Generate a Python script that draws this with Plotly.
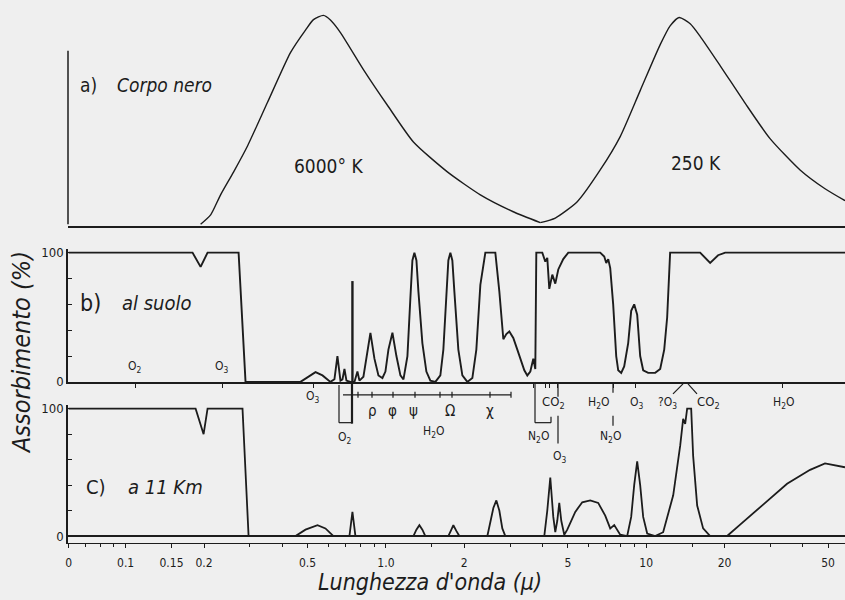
import plotly.graph_objects as go

# ---------------- data ----------------
# a) black body curves (normalised)
bb6000_wl = [0.1941, 0.2121, 0.2316, 0.2597, 0.2939, 0.3509, 0.4298, 0.4909, 0.5269, 0.5755,
             0.6120, 0.6687, 0.8195, 1.0134, 1.2756, 1.7222, 2.3058, 3.0864, 3.9183]
bb6000_val = [0, 0.045, 0.141, 0.25, 0.375, 0.584, 0.822, 0.93, 0.98, 1.0,
              0.978, 0.918, 0.741, 0.57, 0.394, 0.251, 0.141, 0.06, 0.008]
bb250_wl = [3.9183, 4.4749, 5.4345, 6.6582, 7.9474, 9.4830, 11.32, 12.36, 13.39, 14.76,
            16.12, 19.23, 23.99, 29.92, 39.02, 48.66, 58.06]
bb250_val = [0.008, 0.03, 0.108, 0.26, 0.42, 0.64, 0.86, 0.95, 0.99, 0.96,
             0.9, 0.76, 0.58, 0.41, 0.26, 0.17, 0.113]

# b) absorption at ground (%)
ground_wl = [0.0604, 0.1807, 0.1941, 0.2064, 0.2716, 0.2888, 0.4697, 0.5043, 0.5364, 0.5705,
             0.6120, 0.6342, 0.6512, 0.6687, 0.6808, 0.6929, 0.7053, 0.7305, 0.7569, 0.7772,
             0.7911, 0.8195, 0.8416, 0.8719, 0.9034, 0.9359, 0.9696, 0.9956, 1.0224, 1.0593,
             1.0973, 1.1368, 1.1679, 1.2097, 1.2417, 1.2640, 1.2866, 1.3100, 1.3330, 1.3806,
             1.4304, 1.4819, 1.5488, 1.6188, 1.6623, 1.7070, 1.7374, 1.7687, 1.8000, 1.8323,
             1.8980, 1.9666, 2.0556, 2.1486, 2.2256, 2.3058, 2.4100, 2.6327, 2.7275, 2.8257,
             2.9017, 2.9795, 3.0864, 3.1979, 3.2839, 3.4022, 3.4936, 3.5876, 3.6840, 3.7497,
             3.7832, 3.9888, 4.0961, 4.1687, 4.2434, 4.3580, 4.4749, 4.5949, 4.8015, 5.0194,
             6.6582, 6.9000, 7.0233, 7.1484, 7.2756, 7.4681, 7.6708, 7.8079, 8.0168, 8.2319,
             8.5288, 8.7579, 8.9932, 9.2349, 9.4830, 9.7378, 10.18, 10.83, 11.32, 11.73,
             12.04, 12.36, 16.12, 17.61, 18.89, 20.11, 58.06]
ground_val = [100, 100, 89, 100, 100, 0, 0, 4, 7.5, 5,
              0, 2, 20, 1, 2, 10, 1, 0, 0, 8,
              1, 4, 20, 38, 18, 5, 3, 8, 25, 38,
              20, 5, 2, 20, 65, 94, 100, 94, 70, 30,
              8, 1, 0, 5, 25, 70, 94, 100, 94, 70,
              25, 5, 0, 3, 25, 75, 100, 100, 70, 33,
              37, 39, 34, 25, 18, 9, 5, 8, 18, 10,
              100, 100, 93, 96, 72, 83, 76, 87, 95, 100,
              100, 97, 92, 95, 88, 60, 20, 9, 7, 12,
              30, 55, 60, 52, 20, 9, 7, 7, 10, 25,
              50, 100, 100, 92, 98, 100, 100]
o2_line_wl = [0.7436, 0.7436]
o2_line_val = [0, 78]

# c) absorption at 11 km (%)
km11_wl = [0.0604, 0.1857, 0.1993, 0.2064, 0.2812, 0.2967, 0.4494, 0.4909, 0.5459, 0.5857,
           0.6287, 0.7241, 0.7436, 0.7636, 1.2756, 1.3097, 1.3446, 1.3806, 1.4176, 1.7374,
           1.7842, 1.8159, 1.8644, 1.9148, 2.4531, 2.5189, 2.5870, 2.6568, 2.7275, 2.8005,
           2.8758, 4.0593, 4.1687, 4.2812, 4.3963, 4.4749, 4.5542, 4.6355, 4.7183, 4.8443,
           4.9750, 5.3394, 5.6799, 6.0954, 6.5414, 6.9607, 7.2756, 7.5377, 7.7397, 7.9474,
           8.4544, 8.7579, 8.9932, 9.2349, 9.4830, 9.7378, 10.09, 10.83, 11.62, 12.70,
           13.51, 13.87, 14.12, 14.37, 14.89, 15.15, 15.70, 16.55, 17.61, 20.46,
           22.96, 25.75, 34.78, 42.63, 48.66, 58.06]
km11_val = [100, 100, 80, 100, 100, 0, 0, 5, 8.5, 6,
            0, 0, 19, 0, 0, 5, 8.5, 5, 0, 0,
            5, 8.5, 4, 0, 0, 10, 22, 28, 20, 6,
            0, 0, 20, 46, 15, 3, 12, 26, 12, 1,
            5, 19, 26.5, 28, 26, 16, 6, 8.6, 5, 1,
            0, 15, 40, 58.6, 40, 15, 2, 0, 3, 32,
            71, 92, 88, 100, 100, 63, 24, 6, 0, 0,
            9, 18, 41, 52, 57, 54]

# axis ticks
tick_vals = [0.0604, 0.1, 0.15, 0.2, 0.5, 1.0, 2, 5, 10, 20, 50]
tick_text = ["0", "0.1", "0.15", "0.2", "0.5", "1.0", "2", "5", "10", "20", "50"]
minor_vals = [0.07, 0.08, 0.09, 0.3, 0.4, 0.6, 0.7, 0.8, 0.9, 1.5, 3, 4, 6, 7, 8, 9, 15, 30, 40]
band_tick_vals = [0.1092, 0.2357, 0.527, 3.68, 4.10, 4.24, 4.55, 7.47, 9.07, 33.4]
y_tick_vals = [0, 20, 40, 60, 80, 100]
y_tick_text = ["0", "", "", "", "", "100"]

# ---------------- figure ----------------
INK = "#1c1c1c"
BG = "#efefef"
W, H = 845, 600
ML, MR, MT, MB = 68, 0, 0, 57
PW, PH = W - ML - MR, H - MT - MB
XR = [-1.2215, 1.7639]
NARROW = "Liberation Sans Narrow, DejaVu Sans Condensed, Arial Narrow, sans-serif"


def P(px, py):
    return (px - ML) / PW, (PH - (py - MT)) / PH


fig = go.Figure()
fig.add_trace(go.Scatter(x=bb6000_wl, y=bb6000_val, xaxis="x4", yaxis="y", mode="lines",
                         line=dict(color=INK, width=1.4, shape="spline", smoothing=0.6)))
fig.add_trace(go.Scatter(x=bb250_wl, y=bb250_val, xaxis="x4", yaxis="y", mode="lines",
                         line=dict(color=INK, width=1.4, shape="spline", smoothing=0.6)))
fig.add_trace(go.Scatter(x=ground_wl, y=ground_val, xaxis="x2", yaxis="y2", mode="lines",
                         line=dict(color=INK, width=1.9)))
fig.add_trace(go.Scatter(x=o2_line_wl, y=o2_line_val, xaxis="x2", yaxis="y2", mode="lines",
                         line=dict(color=INK, width=2.4)))
fig.add_trace(go.Scatter(x=km11_wl, y=km11_val, xaxis="x", yaxis="y3", mode="lines",
                         line=dict(color=INK, width=1.8)))

_, a_bot = P(0, 224.5)
_, a_top = P(0, 8)
_, b_bot = P(0, 381)
_, b_top = P(0, 247)
_, c_top = P(0, 404)

yax_common = dict(showgrid=False, showline=True, linecolor=INK, linewidth=1.5,
                  ticks="inside", ticklen=4, tickcolor=INK, tickvals=y_tick_vals,
                  ticktext=y_tick_text, tickfont=dict(family=NARROW, size=13, color=INK),
                  fixedrange=True)

fig.update_layout(
    width=W, height=H,
    margin=dict(l=ML, r=MR, t=MT, b=MB),
    paper_bgcolor=BG, plot_bgcolor=BG,
    showlegend=False,
    xaxis=dict(type="log", range=XR, anchor="y3", showgrid=False, zeroline=False,
               showline=True, linecolor=INK, linewidth=1.2,
               tickvals=tick_vals, ticktext=tick_text, ticks="outside", ticklen=4,
               tickcolor=INK, ticklabelstandoff=4,
               tickfont=dict(family=NARROW, size=12, color=INK),
               minor=dict(tickvals=minor_vals, ticks="outside", ticklen=3, tickcolor=INK)),
    xaxis2=dict(type="log", range=XR, anchor="y2", showgrid=False, zeroline=False,
                showline=True, linecolor=INK, linewidth=1.5, tickvals=band_tick_vals,
                ticks="outside", ticklen=4, tickcolor=INK, showticklabels=False),
    xaxis4=dict(type="log", range=XR, anchor="y", showgrid=False, zeroline=False,
                showline=True, linecolor=INK, linewidth=1.5, ticks="", showticklabels=False),
    yaxis=dict(domain=[a_bot, a_top], range=[-0.0095, 1.0214], visible=False, fixedrange=True),
    yaxis2=dict(domain=[b_bot, b_top], range=[0, 103.1], zeroline=False, **yax_common),
    yaxis3=dict(domain=[0, c_top], range=[-5.47, 103.1], zeroline=True, zerolinecolor=INK,
                zerolinewidth=1.5, **yax_common),
)

anns = []


def ann(text, px, py, size=12, family=NARROW, angle=0):
    x, y = P(px, py)
    anns.append(dict(text=text, x=x, y=y, xref="paper", yref="paper", showarrow=False,
                     xanchor="center", yanchor="middle", textangle=angle,
                     font=dict(family=family, size=size, color=INK)))


ann("a)", 88, 82, 19)
ann("<i>Corpo nero</i>", 164, 82, 19)
ann("6000° K", 328, 164, 19)
ann("250 K", 696, 161, 19)
ann("b)", 90, 302, 23)
ann("<i>al suolo</i>", 157, 302, 20)
ann("O<sub>2</sub>", 135, 366, 12)
ann("O<sub>3</sub>", 222, 366, 12)
ann("O<sub>3</sub>", 313, 396, 12)
ann("O<sub>2</sub>", 345, 437, 12)
for t, px in [("ρ", 372), ("φ", 392), ("ψ", 413), ("Ω", 450), ("χ", 490)]:
    ann(t, px, 410, 15)
ann("H<sub>2</sub>O", 433, 431, 12)
ann("CO<sub>2</sub>", 553, 402, 13)
ann("N<sub>2</sub>O", 538, 436, 12)
ann("O<sub>3</sub>", 560, 457, 12)
ann("H<sub>2</sub>O", 598, 402, 12)
ann("N<sub>2</sub>O", 610, 436, 12)
ann("O<sub>3</sub>", 637, 402, 12)
ann("?O<sub>3</sub>", 667, 402, 12)
ann("CO<sub>2</sub>", 708, 402, 13)
ann("H<sub>2</sub>O", 783, 402, 12)
ann("C)", 96, 487, 20)
ann("<i>a 11 Km</i>", 165, 487, 20)
ann("<i>Assorbimento (%)</i>", 21, 352, 25, angle=-90)
ann("<i>Lunghezza d'onda (μ)</i>", 430, 582, 23)
fig.update_layout(annotations=anns)

shapes = []


def seg(px0, py0, px1, py1, w=1.2):
    x0, y0 = P(px0, py0)
    x1, y1 = P(px1, py1)
    shapes.append(dict(type="line", xref="paper", yref="paper", x0=x0, y0=y0, x1=x1, y1=y1,
                       line=dict(color=INK, width=w)))


seg(68, 48, 68, 222.5, 1.5)          # short vertical axis of panel a
seg(339, 384, 339, 422)              # O2 bracket
seg(339, 422, 352, 422)
seg(352, 381, 352, 423, 2.2)
seg(343, 394, 511, 394)              # water-vapour band bar
for px in [358, 372, 393, 415, 440, 452, 490, 511]:
    seg(px, 391, px, 397)
seg(535, 383, 535, 422)              # N2O bracket
seg(535, 422, 551, 422)
seg(551, 422, 551, 416)
seg(558, 382, 558, 396)              # O3 leader
seg(558, 415, 558, 443)
seg(613, 382, 613, 392)              # H2O / N2O leader
seg(613, 415, 613, 425)
seg(673, 393, 683, 383)              # ?O3 / CO2 leaders
seg(697, 393, 688, 383)
fig.update_layout(shapes=shapes)

fig.write_html("out.html", config={"displayModeBar": False},
               post_script="document.body.style.margin='0';document.body.style.padding='0';")
